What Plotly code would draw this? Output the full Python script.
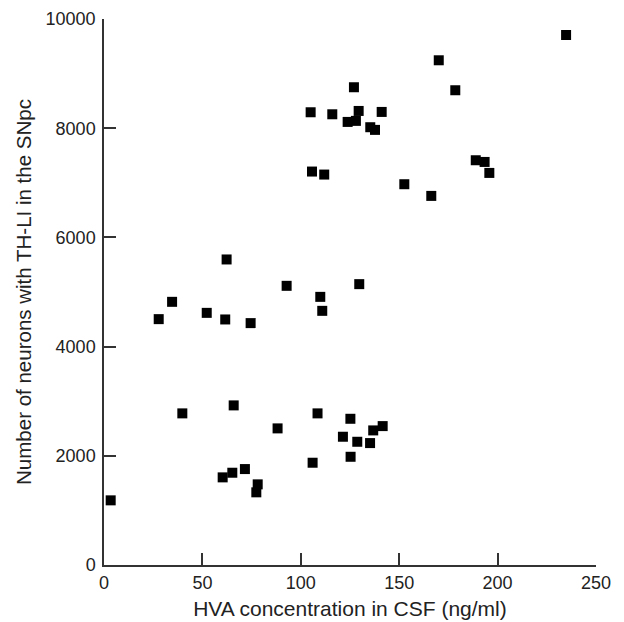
import plotly.graph_objects as go

# HVA concentration (ng/ml)
hva = [234.8, 170.1, 127.0, 178.5, 105.0, 116.0, 129.4, 141.1, 123.8, 128.0,
       135.3, 137.7, 105.7, 111.9, 152.6, 166.3, 188.9, 193.4, 195.8,
       62.3, 92.8, 129.7, 109.9, 110.9, 27.8, 34.6, 52.2, 61.6, 74.5,
       3.4, 39.8, 65.9, 88.2, 60.3, 65.2, 71.6, 78.1, 77.4, 106.0,
       108.5, 125.2, 121.4, 128.7, 125.3, 135.2, 136.8, 141.6]
# Number of TH-LI neurons
neurons = [9707, 9244, 8750, 8695, 8292, 8255, 8316, 8298, 8115, 8134,
           8018, 7969, 7206, 7151, 6974, 6760, 7413, 7382, 7181,
           5596, 5113, 5144, 4911, 4655, 4503, 4820, 4618, 4497, 4430,
           1184, 2777, 2923, 2502, 1605, 1690, 1757, 1477, 1331, 1873,
           2777, 2678, 2349, 2257, 1982, 2233, 2465, 2544]

x_ticks = [0, 50, 100, 150, 200, 250]
x_labels = ["0", "50", "100", "150", "200", "250"]
y_ticks = [0, 2000, 4000, 6000, 8000, 10000]
y_labels = ["0", "2000", "4000", "6000", "8000", "10000"]

fig = go.Figure(go.Scatter(
    x=hva, y=neurons, mode="markers",
    marker=dict(symbol="square", size=10, color="black", line=dict(width=0)),
    cliponaxis=False,
))

FAM = "Liberation Sans, Arial, Helvetica, sans-serif"
tick_font = dict(family=FAM, size=18, color="#222")
axis_common = dict(showline=True, linecolor="#333", linewidth=1.5, ticks="inside",
                   ticklen=12, tickwidth=1.5, tickcolor="#333", showgrid=False,
                   zeroline=False, tickfont=tick_font, automargin=False)

fig.update_layout(
    width=616, height=614,
    margin=dict(l=96, r=28, t=11, b=57),
    paper_bgcolor="white", plot_bgcolor="white",
    showlegend=False,
    xaxis=dict(range=[0, 250], tickvals=x_ticks, ticktext=x_labels,
               ticklabelstandoff=1,
               title=dict(text="HVA concentration in CSF (ng/ml)", standoff=9,
                          font=dict(family=FAM, size=21, color="#222")),
               **axis_common),
    yaxis=dict(range=[0, 10000], tickvals=y_ticks, ticktext=y_labels,
               ticklabelstandoff=3,
               title=dict(text="Number of neurons with TH-LI in the SNpc", standoff=8,
                          font=dict(family=FAM, size=20.5, color="#222")),
               **axis_common),
)

fig.write_html("out.html")
